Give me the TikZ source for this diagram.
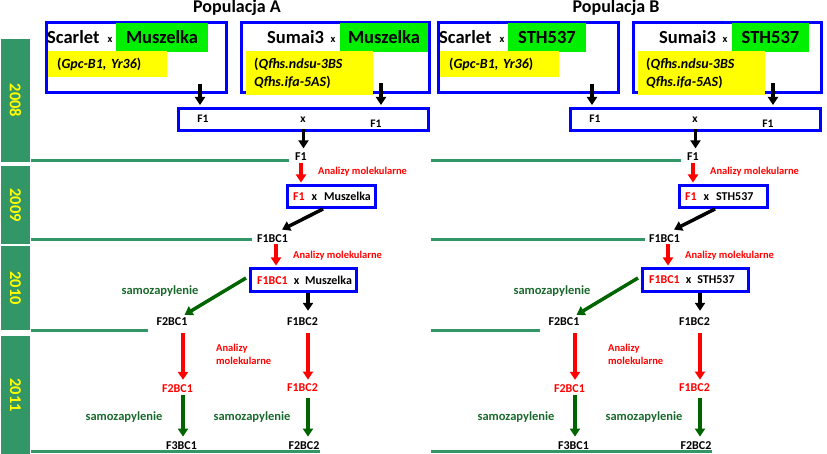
\documentclass[tikz,border=0pt]{standalone}
\usepackage{fontspec}
\setmainfont{Carlito}
\usetikzlibrary{arrows.meta}

\definecolor{boxblue}{RGB}{0,0,255}
\definecolor{hlgreen}{RGB}{0,240,0}
\definecolor{hlyellow}{RGB}{255,255,0}
\definecolor{yeargreen}{RGB}{51,150,102}
\definecolor{selfgreen}{RGB}{0,100,0}
\definecolor{selftext}{RGB}{25,105,45}

\begin{document}
\begin{tikzpicture}[x=1pt, y=-1pt,
	title/.style={anchor=base, inner sep=0pt, font=\bfseries\fontsize{18}{20}\selectfont},
	parent/.style={draw=boxblue, line width=3pt, minimum height=70pt, inner sep=0pt},
	hl/.style={fill=hlgreen, minimum height=29pt, inner sep=0pt, font=\bfseries\fontsize{18.5}{20}\selectfont},
	big/.style={anchor=base west, inner sep=0pt, font=\bfseries\fontsize{18.5}{20}\selectfont},
	tiny/.style={anchor=base, inner sep=0pt, font=\bfseries\fontsize{10.5}{12}\selectfont},
	marker/.style={fill=hlyellow, anchor=north west, inner ysep=0pt, align=left, font=\bfseries\fontsize{14}{18}\selectfont},
	crossbox/.style={draw=boxblue, line width=3pt, minimum width=250pt, minimum height=22pt, inner sep=0pt},
	small/.style={anchor=base, inner sep=0pt, font=\bfseries\fontsize{11.5}{13}\selectfont},
	cross/.style={draw=boxblue, line width=3pt, inner ysep=0pt, align=left, font=\bfseries\fontsize{12}{14}\selectfont},
	gen/.style={inner sep=2pt, font=\bfseries\fontsize{12}{14}\selectfont},
	sel/.style={gen, text=red},
	anal/.style={anchor=west, inner sep=0pt, text=red, align=left, font=\bfseries\fontsize{10.5}{13}\selectfont},
	samo/.style={inner sep=0pt, text=selftext, font=\bfseries\fontsize{12.5}{14}\selectfont},
	year/.style={fill=yeargreen, text=hlyellow, rotate=-90, minimum height=29pt, inner sep=0pt, font=\bfseries\fontsize{16.5}{18}\selectfont},
	sep/.style={draw=yeargreen, line width=3pt},
	arr/.style={line width=3.5pt, -{Triangle[width=10pt,length=8pt]}},
	redarr/.style={arr, red},
	selfarr/.style={arr, selfgreen}]

	\useasboundingbox (0,0) rectangle (827,454);

	% years
	\node[year, minimum width=123pt] (y2008) at (15.5,100.5) {2008};
	\node[year, minimum width=78pt] (y2009) at (15.5,205) {2009};
	\node[year, minimum width=84pt] (y2010) at (15.5,288) {2010};
	\node[year, minimum width=118pt] (y2011) at (15.5,395) {2011};

	% Populacja A
	\node[title] (popA) at (237,13) {Populacja A};
	\node[parent, minimum width=180pt] (boxA1) at (136.5,57.5) {};
	\node[parent, minimum width=188pt] (boxA2) at (335.5,57.5) {};
	\node[hl, minimum width=92pt] (grA1) at (162,37.5) {Muszelka};
	\node[hl, minimum width=88pt] (grA2) at (384,37.5) {Muszelka};
	\node[big] (scA) at (47,44) {Scarlet};
	\node[tiny] (xA1) at (110,43) {x};
	\node[big] (suA) at (267,44) {Sumai3};
	\node[tiny] (xA2) at (333,43) {x};
	\node[marker, minimum height=26pt, text width=101pt, inner xsep=9pt] (geA1) at (48,51) {(\textit{Gpc-B1, Yr36})};
	\node[marker, minimum height=44pt, text width=111pt, inner xsep=8pt] (geA2) at (246,51) {(\textit{Qfhs.ndsu-3BS}\\\textit{Qfhs.ifa-5AS})};

	\node[crossbox] (crossA) at (303.5,119.5) {};
	\node[small] (cfA1) at (203,123) {F1};
	\node[small] (cxA) at (303,123) {x};
	\node[small] (cfA2) at (376,128) {F1};

	\node[gen] (f1A) at (301,156.5) {F1};
	\node[anal] (anA1) at (318,172) {Analizy molekularne};
	\node[cross, minimum width=88pt, minimum height=22pt, text width=77pt, inner xsep=5.5pt] (bcA1) at (331.5,196.5) {\hbox{\textcolor{red}{F1}\hspace{7pt}x\hspace{7pt}Muszelka}};
	\node[gen] (f1bc1A) at (272.5,238.3) {F1BC1};
	\node[anal] (anA2) at (293,256) {Analizy molekularne};
	\node[cross, minimum width=106pt, minimum height=23pt, text width=93pt, inner xsep=6.5pt] (bc2A) at (303.5,280) {\hbox{\textcolor{red}{F1BC1}\hspace{6pt}x\hspace{6pt}Muszelka}};
	\node[samo] (sA1) at (160,291) {samozapylenie};
	\node[gen] (f2bc1A) at (172,322) {F2BC1};
	\node[gen] (f1bc2A) at (302.5,322) {F1BC2};
	\node[anal] (anA3) at (216,354) {Analizy\\molekularne};
	\node[sel] (f2bc1rA) at (177.5,389) {F2BC1};
	\node[sel] (f1bc2rA) at (302.5,387.5) {F1BC2};
	\node[samo] (sA2) at (124,417) {samozapylenie};
	\node[samo] (sA3) at (252,417) {samozapylenie};
	\node[gen] (f3bc1A) at (181.5,445.5) {F3BC1};
	\node[gen] (f2bc2A) at (304,445.5) {F2BC2};

	\draw[sep] (31,160.5) -- (289,160.5);
	\draw[sep] (31,239.5) -- (252,239.5);
	\draw[sep] (31,330.5) -- (148,330.5);
	\draw[sep] (31,451.5) -- (320,451.5);

	\draw[arr] ([xshift=63.5pt,yshift=10pt]boxA1.south) -- ([xshift=63.5pt,yshift=2pt]boxA1.south |- crossA.north);
	\draw[arr] ([xshift=45.5pt,yshift=10.5pt]boxA2.south) -- ([xshift=45.5pt,yshift=2pt]boxA2.south |- crossA.north);
	\draw[arr] ([yshift=2.5pt]crossA.south) -- ([yshift=2pt]crossA.south |- f1A.north);
	\draw[redarr] (f1A.south) -- ([yshift=1.5pt]f1A.south |- bcA1.north);
	\draw[arr] ([xshift=-8.5pt]bcA1.south) -- ([xshift=-8pt,yshift=2.5pt]f1bc1A.north east);
	\draw[redarr] ([xshift=3.5pt]f1bc1A.south) -- ([xshift=3.5pt,yshift=1.5pt]f1bc1A.south |- bc2A.north);
	\draw[selfarr] ([xshift=-3pt,yshift=2pt]bc2A.west) -- ([xshift=-5pt,yshift=1pt]f2bc1A.north east);
	\draw[arr] ([xshift=4.5pt]bc2A.south) -- ([xshift=4.5pt,yshift=5pt]bc2A.south |- f1bc2A.north);
	\draw[redarr] ([xshift=11pt,yshift=-5pt]f2bc1A.south) -- ([xshift=11pt,yshift=3pt]f2bc1A.south |- f2bc1rA.north);
	\draw[redarr] ([xshift=5.5pt,yshift=-5pt]f1bc2A.south) -- ([xshift=5.5pt,yshift=1.7pt]f1bc2A.south |- f1bc2rA.north);
	\draw[selfarr] ([xshift=5.5pt]f2bc1rA.south) -- ([xshift=5.5pt,yshift=2.7pt]f2bc1rA.south |- f3bc1A.north);
	\draw[selfarr] ([xshift=5.5pt,yshift=-4.5pt]f1bc2rA.south) -- ([xshift=5.5pt,yshift=2.7pt]f1bc2rA.south |- f2bc2A.north);

	% Populacja B
	\begin{scope}[xshift=392pt]
	\node[title] (popB) at (224,13) {Populacja B};
	\node[parent, minimum width=180pt] (boxB1) at (136.5,57.5) {};
	\node[parent, minimum width=188pt] (boxB2) at (335.5,57.5) {};
	\node[hl, minimum width=78pt] (grB1) at (155,37.5) {STH537};
	\node[hl, minimum width=77pt] (grB2) at (378.5,37.5) {STH537};
	\node[big] (scB) at (47,44) {Scarlet};
	\node[tiny] (xB1) at (110,43) {x};
	\node[big] (suB) at (267,44) {Sumai3};
	\node[tiny] (xB2) at (333,43) {x};
	\node[marker, minimum height=26pt, text width=101pt, inner xsep=9pt] (geB1) at (48,51) {(\textit{Gpc-B1, Yr36})};
	\node[marker, minimum height=44pt, text width=111pt, inner xsep=8pt] (geB2) at (246,51) {(\textit{Qfhs.ndsu-3BS}\\\textit{Qfhs.ifa-5AS})};

	\node[crossbox] (crossB) at (303.5,119.5) {};
	\node[small] (cfB1) at (203,123) {F1};
	\node[small] (cxB) at (303,123) {x};
	\node[small] (cfB2) at (376,128) {F1};

	\node[gen] (f1B) at (301,156.5) {F1};
	\node[anal] (anB1) at (318,172) {Analizy molekularne};
	\node[cross, minimum width=88pt, minimum height=22pt, text width=77pt, inner xsep=5.5pt] (bcB1) at (331.5,196.5) {\hbox{\textcolor{red}{F1}\hspace{7pt}x\hspace{7pt}STH537}};
	\node[gen] (f1bc1B) at (272.5,238.3) {F1BC1};
	\node[anal] (anB2) at (293,256) {Analizy molekularne};
	\node[cross, minimum width=106pt, minimum height=23pt, text width=93pt, inner xsep=6.5pt] (bc2B) at (303.5,280) {\hbox{\textcolor{red}{F1BC1}\hspace{6pt}x\hspace{6pt}STH537}};
	\node[samo] (sB1) at (160,291) {samozapylenie};
	\node[gen] (f2bc1B) at (172,322) {F2BC1};
	\node[gen] (f1bc2B) at (302.5,322) {F1BC2};
	\node[anal] (anB3) at (216,354) {Analizy\\molekularne};
	\node[sel] (f2bc1rB) at (177.5,389) {F2BC1};
	\node[sel] (f1bc2rB) at (302.5,387.5) {F1BC2};
	\node[samo] (sB2) at (124,417) {samozapylenie};
	\node[samo] (sB3) at (252,417) {samozapylenie};
	\node[gen] (f3bc1B) at (181.5,445.5) {F3BC1};
	\node[gen] (f2bc2B) at (304,445.5) {F2BC2};

	\draw[sep] (39,160.5) -- (289,160.5);
	\draw[sep] (39,239.5) -- (253,239.5);
	\draw[sep] (39,330.5) -- (148,330.5);
	\draw[sep] (39,451.5) -- (320,451.5);

	\draw[arr] ([xshift=63.5pt,yshift=10pt]boxB1.south) -- ([xshift=63.5pt,yshift=2pt]boxB1.south |- crossB.north);
	\draw[arr] ([xshift=45.5pt,yshift=10.5pt]boxB2.south) -- ([xshift=45.5pt,yshift=2pt]boxB2.south |- crossB.north);
	\draw[arr] ([yshift=2.5pt]crossB.south) -- ([yshift=2pt]crossB.south |- f1B.north);
	\draw[redarr] (f1B.south) -- ([yshift=1.5pt]f1B.south |- bcB1.north);
	\draw[arr] ([xshift=-8.5pt]bcB1.south) -- ([xshift=-8pt,yshift=2.5pt]f1bc1B.north east);
	\draw[redarr] ([xshift=3.5pt]f1bc1B.south) -- ([xshift=3.5pt,yshift=1.5pt]f1bc1B.south |- bc2B.north);
	\draw[selfarr] ([xshift=-3pt,yshift=2pt]bc2B.west) -- ([xshift=-5pt,yshift=1pt]f2bc1B.north east);
	\draw[arr] ([xshift=4.5pt]bc2B.south) -- ([xshift=4.5pt,yshift=5pt]bc2B.south |- f1bc2B.north);
	\draw[redarr] ([xshift=11pt,yshift=-5pt]f2bc1B.south) -- ([xshift=11pt,yshift=3pt]f2bc1B.south |- f2bc1rB.north);
	\draw[redarr] ([xshift=5.5pt,yshift=-5pt]f1bc2B.south) -- ([xshift=5.5pt,yshift=1.7pt]f1bc2B.south |- f1bc2rB.north);
	\draw[selfarr] ([xshift=5.5pt]f2bc1rB.south) -- ([xshift=5.5pt,yshift=2.7pt]f2bc1rB.south |- f3bc1B.north);
	\draw[selfarr] ([xshift=5.5pt,yshift=-4.5pt]f1bc2rB.south) -- ([xshift=5.5pt,yshift=2.7pt]f1bc2rB.south |- f2bc2B.north);
	\end{scope}
\end{tikzpicture}
\end{document}
